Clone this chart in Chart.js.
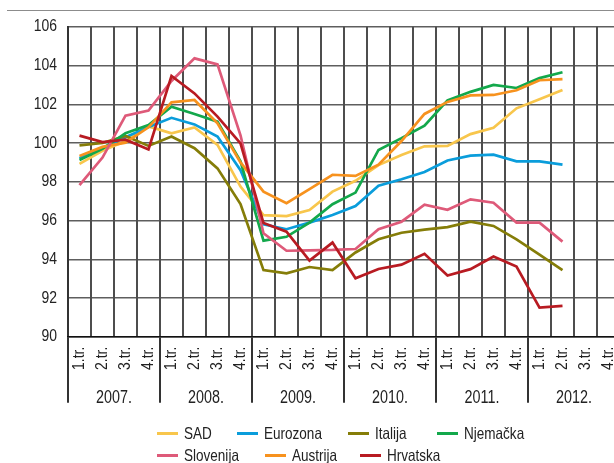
<!DOCTYPE html>
<html><head><meta charset="utf-8">
<script src="https://cdn.jsdelivr.net/npm/chart.js@4.4.0/dist/chart.umd.min.js"></script>
<style>
html,body{margin:0;padding:0;background:#fff;overflow:hidden;width:614px;height:463px;}
#wrap{position:relative;width:640px;height:463px;}
#topline{position:absolute;left:7px;top:10px;width:620px;height:0;border-top:1.5px solid #8c8c8c;}
canvas{position:absolute;left:0;top:0;}
#legend{position:absolute;left:0;top:0;width:614px;height:463px;font-family:'Liberation Sans',Arial,sans-serif;font-size:16.5px;color:#222;}
.item{position:absolute;display:flex;align-items:center;white-space:nowrap;height:20px;}
.item .sw{width:21px;height:3px;margin-right:6px;flex:none;}
.item .tx{display:inline-block;transform:scaleX(0.82);transform-origin:0 50%;}
</style>
</head><body>
<div id="wrap">
<div id="topline"></div>
<canvas id="c" width="640" height="463"></canvas>
<div id="legend"></div>
</div>
<script>
// ---- data ----
const quarterLabels = ['1.tr.','2.tr.','3.tr.','4.tr.','1.tr.','2.tr.','3.tr.','4.tr.','1.tr.','2.tr.','3.tr.','4.tr.','1.tr.','2.tr.','3.tr.','4.tr.','1.tr.','2.tr.','3.tr.','4.tr.','1.tr.','2.tr.','3.tr.','4.tr.'];
const yearLabels = ['2007.','2008.','2009.','2010.','2011.','2012.'];
const seriesNames = ['SAD','Eurozona','Italija','Njemačka','Slovenija','Austrija','Hrvatska'];
const sad       = [98.92, 99.6, 100.1, 100.86, 100.5, 100.8, 99.9, 97.75, 96.28, 96.23, 96.54, 97.49, 98.05, 98.86, 99.38, 99.83, 99.85, 100.46, 100.79, 101.79, 102.26, 102.74];
const eurozona  = [99.22, 99.75, 100.3, 100.82, 101.3, 100.96, 100.33, 98.6, 95.8, 95.55, 95.89, 96.28, 96.75, 97.8, 98.13, 98.5, 99.1, 99.35, 99.4, 99.05, 99.05, 98.88];
const italija   = [99.88, 100.0, 100.36, 99.85, 100.33, 99.73, 98.69, 96.85, 93.44, 93.27, 93.6, 93.44, 94.35, 95.03, 95.37, 95.53, 95.66, 95.94, 95.72, 95.03, 94.24, 93.44];
const njemacka  = [99.12, 99.7, 100.5, 100.93, 101.87, 101.5, 101.1, 99.05, 94.96, 95.16, 95.89, 96.84, 97.44, 99.64, 100.25, 100.9, 102.2, 102.64, 103.0, 102.84, 103.35, 103.65];
const slovenija = [97.83, 99.25, 101.41, 101.67, 103.2, 104.37, 104.06, 100.4, 95.34, 94.44, 94.46, 94.48, 94.53, 95.55, 95.94, 96.82, 96.55, 97.09, 96.92, 95.89, 95.89, 94.91];
const austrija  = [99.33, 99.8, 100.02, 100.81, 102.1, 102.22, 101.02, 99.0, 97.49, 96.89, 97.62, 98.36, 98.3, 98.88, 100.1, 101.5, 102.12, 102.46, 102.48, 102.72, 103.24, 103.3];
const hrvatska  = [100.38, 100.05, 100.17, 99.67, 103.46, 102.56, 101.36, 99.98, 95.87, 95.42, 93.93, 94.86, 93.02, 93.5, 93.72, 94.28, 93.16, 93.49, 94.14, 93.62, 91.5, 91.59];
const seriesValues = [sad, eurozona, italija, njemacka, slovenija, austrija, hrvatska];

// ---- styles ----
const colors = ['#f8c64c','#0a9ddb','#857d08','#13a84b','#de5a79','#f7921e','#b81b22'];
const drawOrder = [6,5,4,3,1,2,0];
const FONT = "'Liberation Sans',Arial,sans-serif";

// condensed look for canvas text (Helvetica-Condensed-like)
const narrowText = {
  id:'narrowText',
  beforeDraw(chart){
    const ctx = chart.ctx;
    if (ctx._origFillText) return;
    ctx._origFillText = ctx.fillText;
    ctx.fillText = function(t,x,y){
      this.save(); this.translate(x,y); this.scale(0.82,1);
      this._origFillText(t,0,0); this.restore();
    };
  }
};

const datasets = seriesNames.map((n,i)=>({
  label:n, data:seriesValues[i], borderColor:colors[i], backgroundColor:colors[i],
  borderWidth:2.7, pointRadius:0, tension:0, fill:false, order:drawOrder[i], xAxisID:'x', yAxisID:'y'
}));

new Chart(document.getElementById('c'), {
  type:'line',
  data:{labels:quarterLabels, datasets},
  plugins:[narrowText],
  options:{
    responsive:false, animation:false, devicePixelRatio:1,
    layout:{padding:{left:0,right:20,top:26.75,bottom:53.25}},
    plugins:{legend:{display:false}, tooltip:{enabled:false}},
    scales:{
      y:{min:90,max:106,
        ticks:{stepSize:2,color:'#222',font:{family:FONT,size:17},padding:11},
        grid:{color:'#5e5e5e',lineWidth:1.4,drawTicks:false},
        border:{color:'#333',width:2},
        afterFit:s=>{s.width=68;}
      },
      x:{type:'category',offset:true,
        grid:{offset:true,color:'#4d4d4d',lineWidth:2,drawTicks:true,tickLength:66,tickWidth:2,
          tickColor:c=>(c.index!==undefined && c.index%4===0)?'#333':'rgba(0,0,0,0)'},
        border:{color:'#111',width:1.5},
        ticks:{autoSkip:false,maxRotation:90,minRotation:90,padding:-56,color:'#222',font:{family:FONT,size:17}},
        afterFit:s=>{s.height=38;}
      },
      x2:{type:'category',position:'bottom',weight:1,labels:yearLabels,offset:true,
        grid:{display:false,drawOnChartArea:false,drawTicks:false},
        border:{display:false},
        ticks:{color:'#222',font:{family:FONT,size:17.5},padding:13},
        afterFit:s=>{s.height=35;}
      }
    }
  }
});

// ---- HTML legend ----
const legendLeft = [157,237,348,437,157,265,360];
const legendTop  = [423,423,423,423,445,445,445];
const lg = document.getElementById('legend');
seriesNames.forEach((n,i)=>{
  const d=document.createElement('div'); d.className='item';
  d.style.left=legendLeft[i]+'px'; d.style.top=legendTop[i]+'px';
  const sw=document.createElement('span'); sw.className='sw'; sw.style.background=colors[i];
  const t=document.createElement('span'); t.className='tx'; t.textContent=n;
  d.appendChild(sw); d.appendChild(t); lg.appendChild(d);
});
</script>
</body></html>
